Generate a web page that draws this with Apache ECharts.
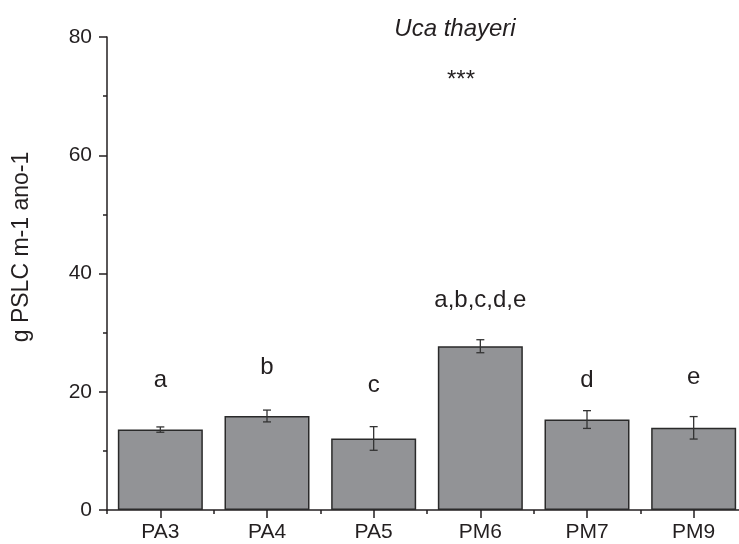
<!DOCTYPE html>
<html>
<head>
<meta charset="utf-8">
<script src="https://cdn.jsdelivr.net/npm/echarts@6/dist/echarts.min.js"></script>
<style>
  html, body { margin: 0; padding: 0; background: #fff; }
  #chart { width: 739px; height: 544px; }
</style>
</head>
<body>
<div id="chart"></div>
<script>
// Annual production per site (mean ± error)
const sites = ['PA3', 'PA4', 'PA5', 'PM6', 'PM7', 'PM9'];
const meanValues = [13.6, 15.9, 12.1, 27.7, 15.3, 13.9];
const errorValues = [0.45, 1.0, 2.0, 1.1, 1.5, 1.9];
// Significance letters and the height (axis units) they are written at
const groupLetters = ['a', 'b', 'c', 'a,b,c,d,e', 'd', 'e'];
const letterLevels = [22.0, 24.2, 21.1, 35.5, 22.0, 22.5];
const yTicks = [0, 20, 40, 60, 80];

const FONT = 'Arial, "Liberation Sans", sans-serif';
const INK = '#231f20';

const chart = echarts.init(document.getElementById('chart'), null, { renderer: 'canvas' });

const option = {
  animation: false,
  backgroundColor: '#ffffff',
  grid: { left: 107, top: 37, width: 640, bottom: 34, containLabel: false, outerBoundsMode: 'none' },
  graphic: [
    {
      type: 'text', x: 455, y: 29,
      style: { text: 'Uca thayeri', font: 'italic 24px ' + FONT, fill: INK, align: 'center', verticalAlign: 'middle' }
    },
    {
      type: 'text', x: 461, y: 80,
      style: { text: '***', font: '24px ' + FONT, fill: INK, align: 'center', verticalAlign: 'middle' }
    },
    {
      type: 'text', x: 22, y: 247, rotation: Math.PI / 2,
      style: { text: 'g PSLC m-1 ano-1', font: '23px ' + FONT, fill: INK, align: 'center', verticalAlign: 'middle' }
    }
  ],
  xAxis: [
    {
      type: 'category', data: sites, position: 'bottom',
      axisLine: { show: true, lineStyle: { color: INK, width: 1.5 } },
      axisTick: { show: true, alignWithLabel: true, inside: false, length: 8, lineStyle: { color: INK, width: 1.5 } },
      axisLabel: { fontFamily: FONT, fontSize: 21, color: INK, margin: 12 },
      splitLine: { show: false }
    },
    {
      type: 'category', data: sites, position: 'bottom', gridIndex: 0,
      axisLine: { show: false },
      axisTick: { show: true, inside: false, length: 4, lineStyle: { color: INK, width: 1.5 } },
      axisLabel: { show: false },
      splitLine: { show: false }
    }
  ],
  yAxis: {
    type: 'value', min: yTicks[0], max: yTicks[yTicks.length - 1], interval: 20,
    axisLine: { show: true, lineStyle: { color: INK, width: 1.5 } },
    axisTick: { show: true, inside: false, length: 8, lineStyle: { color: INK, width: 1.5 } },
    minorTick: { show: true, splitNumber: 2, length: 4, lineStyle: { color: INK, width: 1.5 } },
    axisLabel: { fontFamily: FONT, fontSize: 21, color: INK, margin: 15 },
    splitLine: { show: false },
    minorSplitLine: { show: false }
  },
  series: [
    {
      type: 'bar',
      data: meanValues,
      barWidth: 85,
      itemStyle: { color: '#929396', borderColor: '#2a2a2a', borderWidth: 1.5 },
      z: 2
    },
    {
      // error bars with caps
      type: 'custom',
      data: meanValues.map((m, i) => [i, m, errorValues[i]]),
      z: 3,
      renderItem: function (params, api) {
        const x = api.value(0), m = api.value(1), e = api.value(2);
        const top = api.coord([x, m + e]);
        const bot = api.coord([x, m - e]);
        const half = 4;
        const style = { stroke: '#333', lineWidth: 1.3 };
        return {
          type: 'group',
          children: [
            { type: 'line', shape: { x1: top[0], y1: top[1], x2: bot[0], y2: bot[1] }, style },
            { type: 'line', shape: { x1: top[0] - half, y1: top[1], x2: top[0] + half, y2: top[1] }, style },
            { type: 'line', shape: { x1: bot[0] - half, y1: bot[1], x2: bot[0] + half, y2: bot[1] }, style }
          ]
        };
      }
    },
    {
      // significance letters
      type: 'custom',
      data: letterLevels.map((v, i) => [i, v, groupLetters[i]]),
      z: 4,
      renderItem: function (params, api) {
        const p = api.coord([api.value(0), api.value(1)]);
        return {
          type: 'text', x: p[0], y: p[1],
          style: { text: groupLetters[params.dataIndex], font: '24px ' + FONT, fill: INK, align: 'center', verticalAlign: 'middle' }
        };
      }
    }
  ]
};

chart.setOption(option);
</script>
</body>
</html>
